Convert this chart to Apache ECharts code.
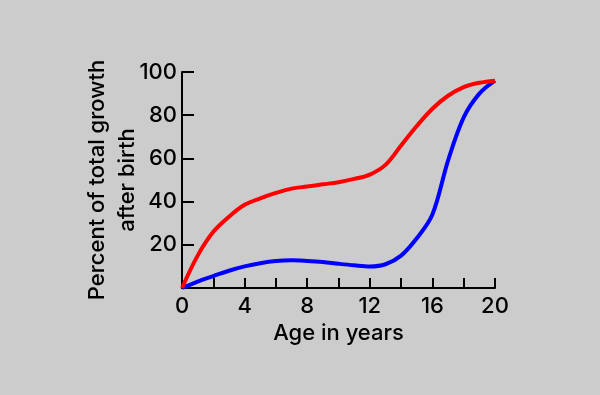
<!DOCTYPE html>
<html><head><meta charset="utf-8">
<script src="https://cdn.jsdelivr.net/npm/echarts@6/dist/echarts.min.js"></script>
<style>html,body{margin:0;padding:0;background:#cccccc}#c{width:600px;height:395px}</style>
</head><body><div id="c"></div>
<script>
const ages = [0,1,2,3,4,5,6,7,8,9,10,11,12,13,14,15,16,17,18,19,20];
const redValues = [0,15,26,33,38.5,41.5,44,46,47,48,49,50.5,52.5,57,66,75,83,89,93,95,96];
const blueValues = [0,3,5.5,8,10,11.5,12.5,12.8,12.5,12,11.2,10.5,10,11,15,23,34,59,79,90,96];
const yTicks = [20,40,60,80,100];
const xName = 'Age in years';
const yName = 'Percent of total growth\nafter birth';

const font = 'Inter, sans-serif';
const fw = 500;
const chart = echarts.init(document.getElementById('c'));
chart.setOption({
  backgroundColor: '#cccccc',
  animation: false,
  grid: {left: 182, right: 105, top: 72, bottom: 107},
  xAxis: {
    type: 'value', min: 0, max: 20, interval: 4,
    name: xName, nameLocation: 'middle', nameGap: 31,
    nameTextStyle: {color: '#000', fontSize: 22, fontFamily: font, fontWeight: fw},
    axisLine: {show: true, lineStyle: {color: '#000', width: 2}},
    axisTick: {show: true, inside: true, length: 10, lineStyle: {color: '#000', width: 2}},
    minorTick: {show: true, splitNumber: 2, length: 10, lineStyle: {color: '#000', width: 2}},
    axisLabel: {color: '#000', fontSize: 22, fontFamily: font, fontWeight: fw, margin: 7},
    splitLine: {show: false}
  },
  yAxis: {
    type: 'value', min: 0, max: 100, interval: 20,
    name: yName, nameLocation: 'middle', nameGap: 40, nameMoveOverlap: false,
    nameTextStyle: {color: '#000', fontSize: 22, fontFamily: font, fontWeight: fw, lineHeight: 30, align: 'center'},
    axisLine: {show: true, lineStyle: {color: '#000', width: 2}},
    axisTick: {show: true, inside: true, length: 12, lineStyle: {color: '#000', width: 2}},
    axisLabel: {color: '#000', fontSize: 22, fontFamily: font, fontWeight: fw, margin: 5,
      formatter: v => yTicks.includes(v) ? String(v) : ''},
    splitLine: {show: false}
  },
  series: [
    {type: 'line', data: ages.map((a,i)=>[a, blueValues[i]]), smooth: 0.35, showSymbol: false,
     lineStyle: {color: '#0000ff', width: 4}},
    {type: 'line', data: ages.map((a,i)=>[a, redValues[i]]), smooth: 0.35, showSymbol: false,
     lineStyle: {color: '#ff0000', width: 4}}
  ]
});
</script></body></html>
